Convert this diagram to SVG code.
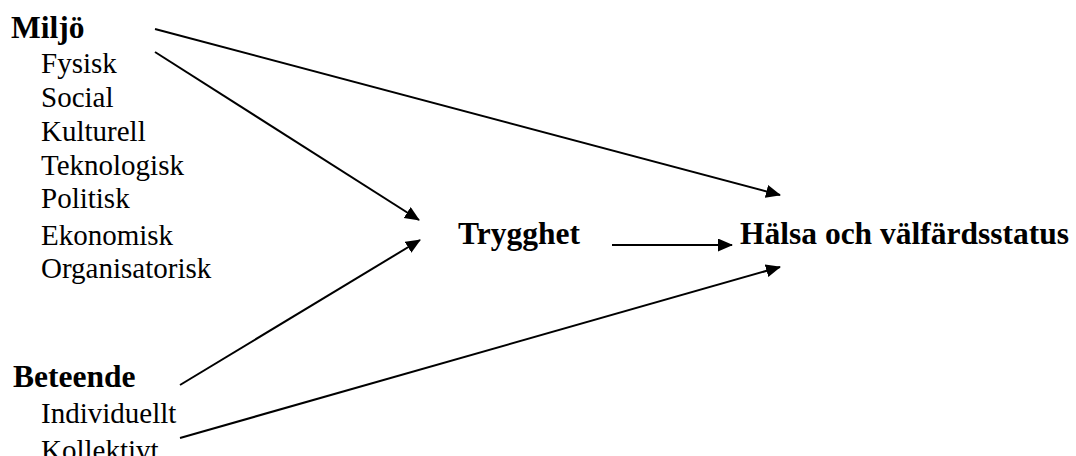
<svg xmlns="http://www.w3.org/2000/svg" width="1076" height="456" viewBox="0 0 1076 456">
<style>
.b{font-family:"Liberation Serif","Times New Roman",serif;font-weight:bold;font-size:31.5px;fill:#000}
.r{font-family:"Liberation Serif","Times New Roman",serif;font-size:29px;fill:#000}
.c{stroke:#000;stroke-width:2;fill:none}
</style>
<defs>
<marker id="ah" markerUnits="userSpaceOnUse" markerWidth="16" markerHeight="14" refX="14" refY="6.5" orient="auto">
<path d="M0,0 L15,6.5 L0,13 Z" fill="#000"/>
</marker>
</defs>
<rect width="1076" height="456" fill="#fff"/>
<g id="miljo">
<text class="b" x="11" y="38">Miljö</text>
<text class="r" x="41" y="73">Fysisk</text>
<text class="r" x="41" y="107">Social</text>
<text class="r" x="41" y="141">Kulturell</text>
<text class="r" x="41" y="175">Teknologisk</text>
<text class="r" x="41" y="208">Politisk</text>
<text class="r" x="41" y="245">Ekonomisk</text>
<text class="r" x="41" y="278">Organisatorisk</text>
</g>
<g id="beteende">
<text class="b" x="13" y="387">Beteende</text>
<text class="r" x="41" y="423">Individuellt</text>
<text class="r" x="41" y="460">Kollektivt</text>
</g>
<g id="trygghet">
<text class="b" x="458" y="244">Trygghet</text>
</g>
<g id="halsa">
<text class="b" x="740" y="244">Hälsa och välfärdsstatus</text>
</g>
<g id="connectors">
<line class="c" x1="155" y1="29" x2="780" y2="195" marker-end="url(#ah)"/>
<line class="c" x1="155" y1="52" x2="419" y2="220" marker-end="url(#ah)"/>
<line class="c" x1="180" y1="385" x2="420" y2="240" marker-end="url(#ah)"/>
<line class="c" x1="180" y1="438" x2="780" y2="267" marker-end="url(#ah)"/>
<line class="c" x1="612" y1="245" x2="732" y2="245" marker-end="url(#ah)"/>
</g>
</svg>
